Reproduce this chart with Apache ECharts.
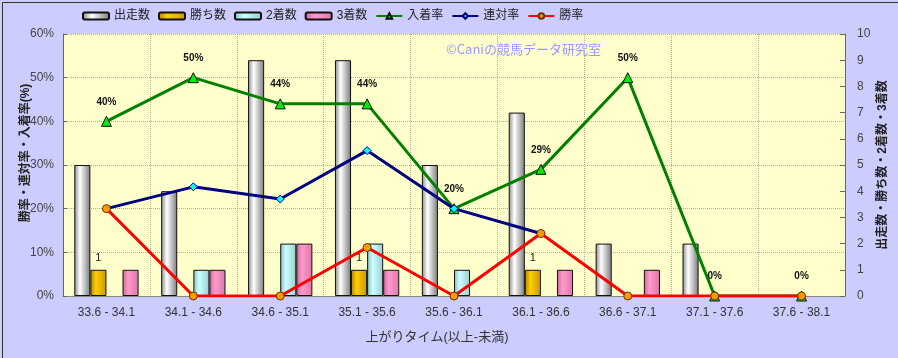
<!DOCTYPE html>
<html><head><meta charset="utf-8">
<script src="https://cdn.jsdelivr.net/npm/echarts@6/dist/echarts.min.js"></script>
<style>html,body{margin:0;padding:0;background:#ccccff;}#c{width:898px;height:358px;}</style>
</head><body><div id="c"></div>
<script>
var categories = ['33.6 - 34.1','34.1 - 34.6','34.6 - 35.1','35.1 - 35.6','35.6 - 36.1','36.1 - 36.6','36.6 - 37.1','37.1 - 37.6','37.6 - 38.1'];
var runs   = [5, 4, 9, 9, 5, 7, 2, 2, 0];
var wins   = [1, 0, 0, 1, 0, 1, 0, 0, 0];
var second = [0, 1, 2, 2, 1, 0, 0, 0, 0];
var third  = [1, 1, 2, 1, 0, 1, 1, 0, 0];
var placeRate = [40, 50, 44, 44, 20, 29, 50, 0, 0];
var rentaiRate = [20, 25, 22.2, 33.3, 20, 14.3, null, null, null];
var winRate = [20, 0, 0, 11.1, 0, 14.3, 0, 0, 0];
var leftTicks = [0, 10, 20, 30, 40, 50, 60];
var rightTicks = [0, 1, 2, 3, 4, 5, 6, 7, 8, 9, 10];

var FONT = "'Liberation Sans','Noto Sans CJK JP',sans-serif";
function nz(a){ return a.map(function(v){ return v === 0 ? '-' : v; }); }
function grad(c0, c1, c2){
  return new echarts.graphic.LinearGradient(0,0,1,0,[
    {offset:0,color:c0},{offset:0.35,color:c1},{offset:1,color:c2}]);
}
var chart = echarts.init(document.getElementById('c'));
var barBase = {type:'bar', yAxisIndex:1, barGap:'0%', barCategoryGap:'26%'};
chart.setOption({
  backgroundColor:'#ccccff',
  textStyle:{fontFamily:FONT},
  animation:false,
  graphic:[
    {type:'rect', left:0, top:0, shape:{width:897, height:357}, style:{fill:'none', stroke:'#333', lineWidth:1}, z:100},
    {type:'text', left:446, top:43, style:{text:'©Caniの競馬データ研究室', fill:'#9999ff', font:"13px 'Noto Sans CJK JP'"}, z:5}
  ],
  legend:{
    left:82, top:10, padding:0, itemWidth:26, itemHeight:7, itemGap:8,
    textStyle:{fontSize:12, color:'#222', fontFamily:FONT},
    data:['出走数','勝ち数','2着数','3着数','入着率','連対率','勝率']
  },
  grid:{left:63, right:53, top:34, bottom:62, show:true, backgroundColor:'#ffffcc', borderWidth:0, outerBoundsMode:'none', containLabel:false},
  xAxis:{
    type:'category', data:categories,
    name:'上がりタイム(以上-未満)', nameLocation:'middle', nameGap:35, nameMoveOverlap:false,
    nameTextStyle:{fontSize:13, color:'#333', padding:[0,34,0,0]},
    axisLine:{lineStyle:{color:'#888'}},
    axisTick:{show:false},
    axisLabel:{color:'#333', fontSize:12, margin:11},
    splitLine:{show:true, lineStyle:{color:'#b0b0a0', type:'dotted'}}
  },
  yAxis:[
    {type:'value', min:0, max:60, interval:10, position:'left',
     name:'勝率・連対率・入着率(%)', nameLocation:'middle', nameGap:31, nameRotate:90, nameMoveOverlap:false,
     nameTextStyle:{fontSize:12, fontWeight:'bold', color:'#222', padding:[0,0,0,24]},
     axisLine:{show:true, lineStyle:{color:'#666'}},
     axisTick:{show:true, inside:true, length:4, lineStyle:{color:'#666'}},
     axisLabel:{formatter:'{value}%', color:'#444', fontSize:12, margin:9},
     splitLine:{show:true, lineStyle:{color:'#b0b0a0', type:'dotted'}}},
    {type:'value', min:0, max:10, interval:1, position:'right',
     name:'出走数・勝ち数・2着数・3着数', nameLocation:'middle', nameGap:32, nameRotate:90, nameMoveOverlap:false,
     nameTextStyle:{fontSize:12, fontWeight:'bold', color:'#222'},
     axisLine:{show:true, lineStyle:{color:'#666'}},
     axisTick:{show:true, inside:true, length:5, lineStyle:{color:'#666'}},
     axisLabel:{color:'#444', fontSize:12, margin:12},
     splitLine:{show:false}}
  ],
  series:[
    Object.assign({}, barBase, {name:'出走数', data:nz(runs),
      itemStyle:{color:grad('#8a8a8a','#ffffff','#7a7a7a'), borderColor:'#111', borderWidth:1}}),
    Object.assign({}, barBase, {name:'勝ち数', data:nz(wins),
      itemStyle:{color:grad('#b08a00','#ffcc00','#c89a00'), borderColor:'#111', borderWidth:1},
      label:{show:true, position:'top', distance:6, color:'#222', fontSize:11}}),
    Object.assign({}, barBase, {name:'2着数', data:nz(second),
      itemStyle:{color:grad('#88bbbb','#ccffff','#99cccc'), borderColor:'#111', borderWidth:1}}),
    Object.assign({}, barBase, {name:'3着数', data:nz(third),
      itemStyle:{color:grad('#cc6699','#ff99cc','#dd77aa'), borderColor:'#111', borderWidth:1}}),
    {type:'line', name:'入着率', data:placeRate, yAxisIndex:0, z:10,
     lineStyle:{color:'#008000', width:3}, symbol:'triangle', symbolSize:10,
     itemStyle:{color:'#00ee00', borderColor:'#111', borderWidth:1},
     label:{show:true, position:'top', distance:9, formatter:'{c}%', fontSize:10, fontWeight:'bold', color:'#111'}},
    {type:'line', name:'連対率', data:rentaiRate, yAxisIndex:0, z:11,
     lineStyle:{color:'#000080', width:3}, symbol:'diamond', symbolSize:8,
     itemStyle:{color:'#00ffff', borderColor:'#000080', borderWidth:1}},
    {type:'line', name:'勝率', data:winRate, yAxisIndex:0, z:12,
     lineStyle:{color:'#ff0000', width:3}, symbol:'circle', symbolSize:8,
     itemStyle:{color:'#ff9900', borderColor:'#663300', borderWidth:1}}
  ]
});
</script></body></html>
